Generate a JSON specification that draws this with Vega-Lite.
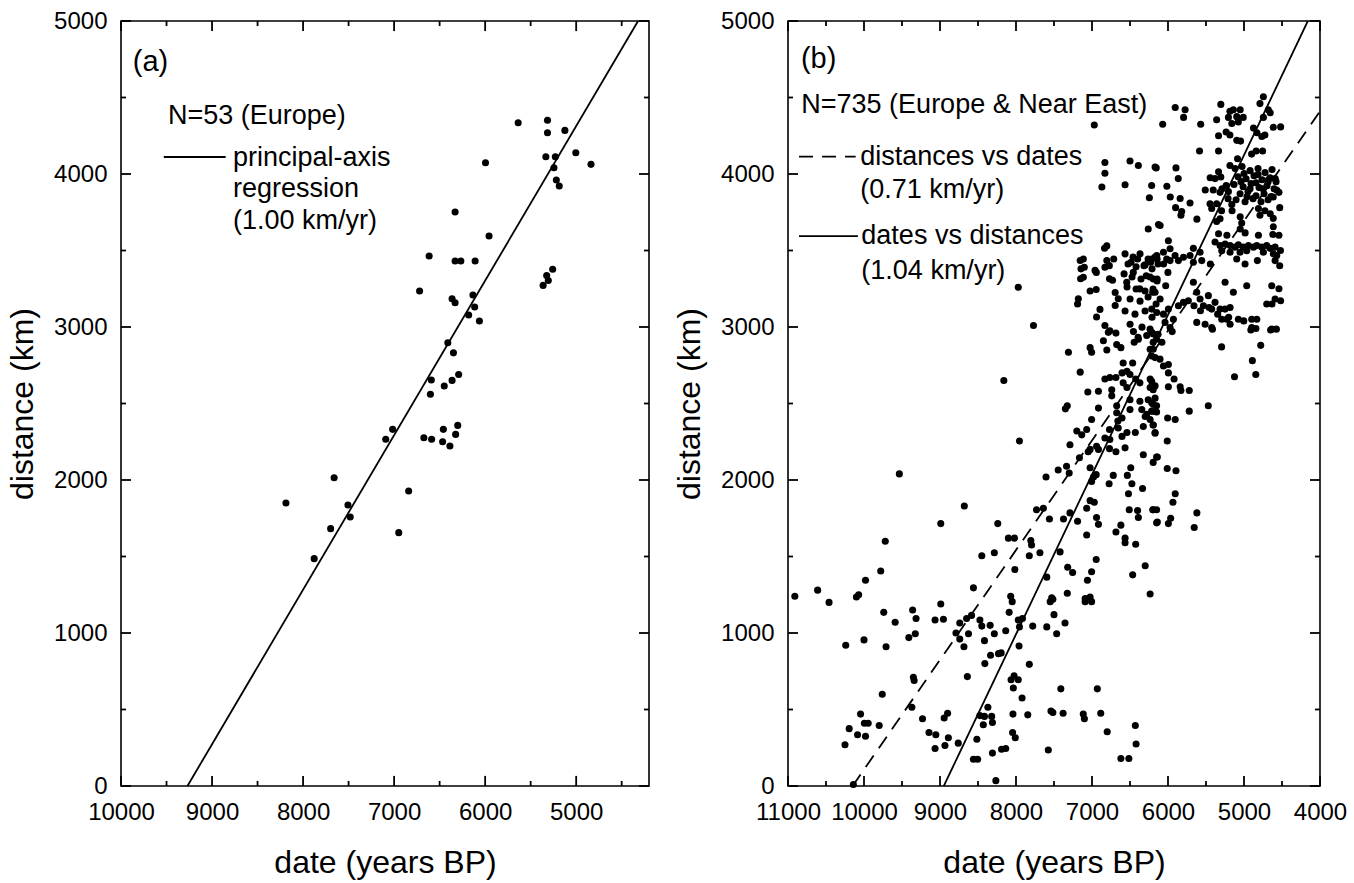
{
  "$schema": "https://vega.github.io/schema/vega-lite/v6.json",
  "padding": {"left": 5, "top": 8, "right": 6, "bottom": 4},
  "background": "white",
  "config": {
    "font": "Liberation Sans",
    "view": {"stroke": "black", "strokeWidth": 1.6},
    "concat": {"spacing": 21},
    "rule": {"color": "black", "strokeWidth": 1.8},
    "axis": {
      "grid": false,
      "domain": false,
      "ticks": false,
      "labelFont": "Liberation Sans",
      "labelFontSize": 24,
      "labelColor": "black",
      "labelFlush": false,
      "labelOverlap": false,
      "titleFont": "Liberation Sans",
      "titleFontSize": 32,
      "titleFontWeight": "normal",
      "titleColor": "black"
    }
  },
  "datasets": {
    "a_xt": [
      {"value":10000,"kind":"major"},{"value":9500,"kind":"minor"},{"value":9000,"kind":"major"},{"value":8500,"kind":"minor"},
      {"value":8000,"kind":"major"},{"value":7500,"kind":"minor"},{"value":7000,"kind":"major"},{"value":6500,"kind":"minor"},
      {"value":6000,"kind":"major"},{"value":5500,"kind":"minor"},{"value":5000,"kind":"major"},{"value":4500,"kind":"minor"}
    ],
    "b_xt": [
      {"value":11000,"kind":"major"},{"value":10500,"kind":"minor"},{"value":10000,"kind":"major"},{"value":9500,"kind":"minor"},
      {"value":9000,"kind":"major"},{"value":8500,"kind":"minor"},{"value":8000,"kind":"major"},{"value":7500,"kind":"minor"},
      {"value":7000,"kind":"major"},{"value":6500,"kind":"minor"},{"value":6000,"kind":"major"},{"value":5500,"kind":"minor"},
      {"value":5000,"kind":"major"},{"value":4500,"kind":"minor"},{"value":4000,"kind":"major"}
    ],
    "yt": [
      {"value":0,"kind":"major"},{"value":500,"kind":"minor"},{"value":1000,"kind":"major"},{"value":1500,"kind":"minor"},
      {"value":2000,"kind":"major"},{"value":2500,"kind":"minor"},{"value":3000,"kind":"major"},{"value":3500,"kind":"minor"},
      {"value":4000,"kind":"major"},{"value":4500,"kind":"minor"},{"value":5000,"kind":"major"}
    ],
    "a_pts": [
      {"date":5637,"distance":4335},{"date":5315,"distance":4351},{"date":5315,"distance":4270},{"date":5124,"distance":4285},
      {"date":5333,"distance":4113},{"date":5229,"distance":4113},{"date":5004,"distance":4139},{"date":4837,"distance":4063},
      {"date":5244,"distance":4041},{"date":5218,"distance":3961},{"date":5186,"distance":3922},{"date":5996,"distance":4074},
      {"date":6330,"distance":3752},{"date":5957,"distance":3595},{"date":6615,"distance":3464},{"date":6330,"distance":3431},
      {"date":6267,"distance":3431},{"date":6110,"distance":3431},{"date":5258,"distance":3377},{"date":5324,"distance":3337},
      {"date":5306,"distance":3304},{"date":5363,"distance":3272},{"date":6720,"distance":3235},{"date":6363,"distance":3185},
      {"date":6134,"distance":3209},{"date":6330,"distance":3159},{"date":6115,"distance":3131},{"date":6181,"distance":3078},
      {"date":6063,"distance":3039},{"date":6410,"distance":2897},{"date":6348,"distance":2831},{"date":6591,"distance":2654},
      {"date":6601,"distance":2560},{"date":6449,"distance":2614},{"date":6363,"distance":2651},{"date":6291,"distance":2690},
      {"date":7016,"distance":2331},{"date":7092,"distance":2266},{"date":6673,"distance":2276},{"date":6588,"distance":2266},
      {"date":6459,"distance":2331},{"date":6301,"distance":2357},{"date":6324,"distance":2298},{"date":6467,"distance":2250},
      {"date":6387,"distance":2222},{"date":7659,"distance":2015},{"date":6840,"distance":1928},{"date":8188,"distance":1850},
      {"date":7507,"distance":1837},{"date":7482,"distance":1758},{"date":7697,"distance":1682},{"date":6949,"distance":1656},
      {"date":7878,"distance":1486}
    ],
    "a_line": [
      {"date":9270,"distance":0},{"date":4320,"distance":5000}
    ],
    "a_leg": [
      {"x1":9530,"x2":8850,"y":4111}
    ],
    "a_text": [
      {"date":9870,"distance":4730,"label":"(a)","size":29},
      {"date":9484,"distance":4380,"label":"N=53 (Europe)","size":27},
      {"date":8770,"distance":4105,"label":"principal-axis","size":27},
      {"date":8770,"distance":3900,"label":"regression","size":27},
      {"date":8770,"distance":3690,"label":"(1.00 km/yr)","size":27}
    ],
    "b_line": [
      {"date":8950,"distance":0,"fit":"dates vs distances"},{"date":4160,"distance":5000,"fit":"dates vs distances"},
      {"date":10150,"distance":0,"fit":"distances vs dates"},{"date":4000,"distance":4410,"fit":"distances vs dates"}
    ],
    "b_leg": [
      {"x1":10855,"x2":10110,"y":4114,"fit":"distances vs dates"},
      {"x1":10855,"x2":10080,"y":3594,"fit":"dates vs distances"}
    ],
    "b_text": [
      {"date":10830,"distance":4750,"label":"(b)","size":29},
      {"date":10825,"distance":4450,"label":"N=735 (Europe & Near East)","size":27},
      {"date":10050,"distance":4114,"label":"distances vs dates","size":27},
      {"date":10050,"distance":3893,"label":"(0.71 km/yr)","size":27},
      {"date":10035,"distance":3594,"label":"dates vs distances","size":27},
      {"date":10035,"distance":3368,"label":"(1.04 km/yr)","size":27}
    ],
    "b_pts": [
      {"date":10910,"distance":1240},{"date":10610,"distance":1280},{"date":10460,"distance":1200},{"date":10100,"distance":1235},
      {"date":10070,"distance":1250},{"date":9980,"distance":1345},{"date":9780,"distance":1405},{"date":9720,"distance":1600},
      {"date":9535,"distance":2040},{"date":8990,"distance":1715},{"date":8680,"distance":1830},{"date":8240,"distance":1715},
      {"date":8450,"distance":1505},{"date":8285,"distance":1525},{"date":8560,"distance":1295},{"date":9740,"distance":1135},
      {"date":9590,"distance":1070},{"date":9360,"distance":1150},{"date":9315,"distance":1095},{"date":8990,"distance":1190},
      {"date":9065,"distance":1085},{"date":8955,"distance":1090},{"date":10240,"distance":920},{"date":10000,"distance":955},
      {"date":9710,"distance":910},{"date":9410,"distance":970},{"date":9325,"distance":995},{"date":8740,"distance":1065},
      {"date":8650,"distance":1095},{"date":8585,"distance":1115},{"date":8790,"distance":1000},{"date":8740,"distance":960},
      {"date":8685,"distance":910},{"date":8625,"distance":995},{"date":8475,"distance":1085},{"date":8450,"distance":1045},
      {"date":8340,"distance":1050},{"date":8285,"distance":995},{"date":8415,"distance":950},{"date":8335,"distance":855},
      {"date":8410,"distance":800},{"date":8640,"distance":715},{"date":9350,"distance":710},{"date":9340,"distance":690},
      {"date":9760,"distance":600},{"date":9370,"distance":515},{"date":10045,"distance":470},{"date":10195,"distance":375},
      {"date":10085,"distance":335},{"date":9980,"distance":325},{"date":9995,"distance":410},{"date":9945,"distance":410},
      {"date":10250,"distance":270},{"date":9800,"distance":395},{"date":9230,"distance":440},{"date":9145,"distance":350},
      {"date":9055,"distance":335},{"date":9065,"distance":245},{"date":8935,"distance":265},{"date":8945,"distance":445},
      {"date":8900,"distance":475},{"date":8890,"distance":315},{"date":8760,"distance":280},{"date":8515,"distance":305},
      {"date":8370,"distance":515},{"date":8475,"distance":460},{"date":8415,"distance":455},{"date":8320,"distance":455},
      {"date":8430,"distance":400},{"date":8310,"distance":415},{"date":8560,"distance":175},{"date":8505,"distance":175},
      {"date":8310,"distance":215},{"date":8265,"distance":35},{"date":8230,"distance":865},{"date":10140,"distance":10},
      {"date":8070,"distance":1240},{"date":8050,"distance":1205},{"date":8090,"distance":1135},{"date":8135,"distance":1015},
      {"date":7970,"distance":1085},{"date":7915,"distance":1095},{"date":7955,"distance":1040},{"date":7780,"distance":1045},
      {"date":7595,"distance":1040},{"date":7550,"distance":1205},{"date":7515,"distance":1220},{"date":7325,"distance":1260},
      {"date":7500,"distance":1120},{"date":7465,"distance":995},{"date":7355,"distance":1065},{"date":7090,"distance":1205},
      {"date":7005,"distance":1205},{"date":6235,"distance":1255},{"date":8195,"distance":870},{"date":7960,"distance":915},
      {"date":7825,"distance":795},{"date":8065,"distance":695},{"date":8025,"distance":720},{"date":7970,"distance":695},
      {"date":8035,"distance":640},{"date":7920,"distance":575},{"date":7410,"distance":635},{"date":6930,"distance":635},
      {"date":8040,"distance":470},{"date":7845,"distance":465},{"date":7540,"distance":490},{"date":7515,"distance":480},
      {"date":7380,"distance":475},{"date":7115,"distance":470},{"date":7100,"distance":440},{"date":6885,"distance":475},
      {"date":6800,"distance":355},{"date":6430,"distance":395},{"date":6420,"distance":275},{"date":6620,"distance":180},
      {"date":6515,"distance":180},{"date":8045,"distance":350},{"date":8010,"distance":315},{"date":8190,"distance":240},
      {"date":8135,"distance":245},{"date":7575,"distance":235},
      {"date":8160,"distance":2650},{"date":7955,"distance":2255},{"date":7310,"distance":2835},{"date":7155,"distance":2705},
      {"date":7025,"distance":2865},{"date":7005,"distance":2835},{"date":6850,"distance":2910},{"date":6805,"distance":2850},
      {"date":6675,"distance":2885},{"date":6620,"distance":2865},{"date":6445,"distance":2900},{"date":6390,"distance":2920},
      {"date":6765,"distance":2975},{"date":6685,"distance":2960},{"date":6455,"distance":2970},{"date":6280,"distance":2945},
      {"date":6195,"distance":2955},{"date":6235,"distance":2855},{"date":6170,"distance":2800},{"date":6195,"distance":2900},
      {"date":6590,"distance":2765},{"date":6465,"distance":2765},{"date":6830,"distance":2660},{"date":6765,"distance":2670},
      {"date":6685,"distance":2670},{"date":6605,"distance":2700},{"date":6540,"distance":2710},{"date":6500,"distance":2690},
      {"date":6590,"distance":2635},{"date":6540,"distance":2605},{"date":6425,"distance":2660},{"date":6370,"distance":2635},
      {"date":6235,"distance":2660},{"date":6235,"distance":2605},{"date":6170,"distance":2615},{"date":7055,"distance":2575},
      {"date":6915,"distance":2580},{"date":6740,"distance":2590},{"date":6740,"distance":2550},{"date":6500,"distance":2525},
      {"date":6370,"distance":2515},{"date":6260,"distance":2525},{"date":6195,"distance":2495},{"date":7350,"distance":2465},
      {"date":7325,"distance":2485},{"date":6915,"distance":2470},{"date":6675,"distance":2485},{"date":6675,"distance":2440},
      {"date":6500,"distance":2460},{"date":6345,"distance":2460},{"date":6280,"distance":2430},{"date":6195,"distance":2450},
      {"date":7005,"distance":2395},{"date":6660,"distance":2385},{"date":6605,"distance":2405},{"date":6300,"distance":2415},
      {"date":6235,"distance":2395},{"date":7200,"distance":2320},{"date":7135,"distance":2295},{"date":7070,"distance":2330},
      {"date":6770,"distance":2330},{"date":6655,"distance":2340},{"date":6605,"distance":2285},{"date":6540,"distance":2310},
      {"date":6430,"distance":2310},{"date":6325,"distance":2350},{"date":6195,"distance":2360},{"date":6170,"distance":2310},
      {"date":6830,"distance":2275},{"date":6765,"distance":2265},{"date":7290,"distance":2230},{"date":6940,"distance":2220},
      {"date":6915,"distance":2200},{"date":7025,"distance":2200},{"date":7050,"distance":2185},{"date":6770,"distance":2205},
      {"date":6685,"distance":2185},{"date":6565,"distance":2210},{"date":7165,"distance":2145},{"date":6325,"distance":2165},
      {"date":6150,"distance":2150},{"date":6195,"distance":2115},{"date":7445,"distance":2065},{"date":7335,"distance":2090},
      {"date":7300,"distance":2045},{"date":7605,"distance":2020},{"date":7025,"distance":2080},{"date":6980,"distance":2020},
      {"date":6945,"distance":2035},{"date":7005,"distance":1990},{"date":6720,"distance":2030},{"date":6535,"distance":2030},
      {"date":6490,"distance":2080},{"date":6475,"distance":1975},{"date":6775,"distance":1975},{"date":6335,"distance":1945},
      {"date":6520,"distance":1910},{"date":7730,"distance":1805},{"date":7640,"distance":1815},{"date":7560,"distance":1745},
      {"date":7375,"distance":1745},{"date":7290,"distance":1785},{"date":7190,"distance":1730},{"date":7070,"distance":1815},
      {"date":7025,"distance":1865},{"date":6970,"distance":1855},{"date":6940,"distance":1755},{"date":6915,"distance":1710},
      {"date":6510,"distance":1805},{"date":6400,"distance":1800},{"date":6390,"distance":1755},{"date":6200,"distance":1805},
      {"date":6150,"distance":1720},{"date":8100,"distance":1620},{"date":8020,"distance":1620},{"date":7805,"distance":1605},
      {"date":7795,"distance":1575},{"date":7825,"distance":1505},{"date":7685,"distance":1525},{"date":7420,"distance":1530},
      {"date":7070,"distance":1640},{"date":6685,"distance":1660},{"date":6620,"distance":1705},{"date":6565,"distance":1620},
      {"date":6565,"distance":1590},{"date":6425,"distance":1580},{"date":8015,"distance":1415},{"date":7320,"distance":1430},
      {"date":7255,"distance":1395},{"date":6945,"distance":1480},{"date":7005,"distance":1400},{"date":7060,"distance":1345},
      {"date":7595,"distance":1365},{"date":6300,"distance":1440},{"date":6465,"distance":1380},{"date":7530,"distance":1230},
      {"date":7090,"distance":1225},{"date":7025,"distance":1235},
      {"date":6215,"distance":2965},{"date":6150,"distance":2920},{"date":6080,"distance":2900},{"date":6195,"distance":2855},
      {"date":6215,"distance":2810},{"date":6105,"distance":2790},{"date":6060,"distance":2745},{"date":5995,"distance":2755},
      {"date":5945,"distance":2970},{"date":5415,"distance":2985},{"date":4910,"distance":2980},{"date":4650,"distance":2980},
      {"date":5295,"distance":2870},{"date":4780,"distance":2880},{"date":4890,"distance":2780},{"date":5125,"distance":2675},
      {"date":4845,"distance":2690},{"date":5995,"distance":2700},{"date":5920,"distance":2660},{"date":6215,"distance":2645},
      {"date":5995,"distance":2610},{"date":5840,"distance":2610},{"date":5830,"distance":2585},{"date":5720,"distance":2585},
      {"date":6195,"distance":2590},{"date":6170,"distance":2535},{"date":6215,"distance":2505},{"date":6150,"distance":2485},
      {"date":6215,"distance":2450},{"date":6150,"distance":2445},{"date":5720,"distance":2450},{"date":5470,"distance":2485},
      {"date":6005,"distance":2405},{"date":5905,"distance":2395},{"date":6195,"distance":2360},{"date":6170,"distance":2305},
      {"date":6010,"distance":2255},{"date":6140,"distance":2150},{"date":6010,"distance":2075},{"date":5895,"distance":2060},
      {"date":5905,"distance":1910},{"date":5935,"distance":1855},{"date":6195,"distance":1805},{"date":6150,"distance":1805},
      {"date":6140,"distance":1725},{"date":5995,"distance":1715},{"date":5965,"distance":1750},{"date":5620,"distance":1785},
      {"date":5655,"distance":1690},
      {"date":6970,"distance":4320},{"date":6830,"distance":4075},{"date":6830,"distance":4005},{"date":6870,"distance":3915},
      {"date":6500,"distance":4085},{"date":6390,"distance":4055},{"date":6565,"distance":3930},{"date":6170,"distance":4045},
      {"date":6215,"distance":3925},{"date":6245,"distance":3845},{"date":6125,"distance":3670},{"date":6260,"distance":3640},
      {"date":6805,"distance":3530},{"date":6835,"distance":3515},{"date":7155,"distance":3435},{"date":7145,"distance":3380},
      {"date":7150,"distance":3315},{"date":6805,"distance":3435},{"date":6830,"distance":3390},{"date":6960,"distance":3370},
      {"date":7970,"distance":3260},{"date":7770,"distance":3010},{"date":7180,"distance":3185},{"date":7190,"distance":3150},
      {"date":7025,"distance":3235},{"date":6945,"distance":3245},{"date":6895,"distance":3115},{"date":6940,"distance":3065},
      {"date":6770,"distance":3315},{"date":6730,"distance":3305},{"date":6695,"distance":3225},{"date":6655,"distance":3185},
      {"date":6695,"distance":3140},{"date":6830,"distance":3010},{"date":6785,"distance":2965},
      {"date":6565,"distance":3478},{"date":6460,"distance":3457},{"date":6368,"distance":3478},{"date":6262,"distance":3445},
      {"date":6170,"distance":3457},{"date":6526,"distance":3412},{"date":6420,"distance":3393},{"date":6302,"distance":3406},
      {"date":6210,"distance":3380},{"date":6131,"distance":3412},{"date":6578,"distance":3347},{"date":6473,"distance":3327},
      {"date":6355,"distance":3314},{"date":6236,"distance":3327},{"date":6144,"distance":3301},{"date":6539,"distance":3261},
      {"date":6420,"distance":3248},{"date":6302,"distance":3235},{"date":6197,"distance":3248},{"date":6499,"distance":3183},
      {"date":6368,"distance":3169},{"date":6262,"distance":3196},{"date":6157,"distance":3150},{"date":6565,"distance":3104},
      {"date":6434,"distance":3084},{"date":6302,"distance":3104},{"date":6210,"distance":3064},{"date":6499,"distance":3018},
      {"date":6342,"distance":2999},{"date":6236,"distance":2986},{"date":6131,"distance":2953},{"date":6394,"distance":2933},
      {"date":6486,"distance":3423},{"date":6400,"distance":3445},{"date":6316,"distance":3401},{"date":6229,"distance":3423},
      {"date":6143,"distance":3445},{"date":6058,"distance":3412},{"date":5973,"distance":3434},{"date":6457,"distance":3357},
      {"date":6286,"distance":3335},{"date":6143,"distance":3314},{"date":6001,"distance":3357},{"date":6543,"distance":3292},
      {"date":6372,"distance":3249},{"date":6201,"distance":3227},{"date":6030,"distance":3270},{"date":7114,"distance":3445},
      {"date":7101,"distance":3390},{"date":7114,"distance":3325},{"date":6943,"distance":3357},{"date":6772,"distance":3401},
      {"date":6714,"distance":3445},
      {"date":5905,"distance":4435},{"date":5775,"distance":4420},{"date":5795,"distance":4370},{"date":6070,"distance":4325},
      {"date":5570,"distance":4325},{"date":5305,"distance":4455},{"date":5185,"distance":4410},{"date":5140,"distance":4420},
      {"date":5050,"distance":4420},{"date":5205,"distance":4370},{"date":5095,"distance":4375},{"date":5010,"distance":4370},
      {"date":5160,"distance":4330},{"date":5075,"distance":4340},{"date":5360,"distance":4355},{"date":4745,"distance":4505},
      {"date":4790,"distance":4460},{"date":4680,"distance":4420},{"date":4655,"distance":4400},{"date":4745,"distance":4370},
      {"date":4615,"distance":4305},{"date":5335,"distance":4250},{"date":5235,"distance":4275},{"date":5185,"distance":4255},
      {"date":5095,"distance":4220},{"date":5045,"distance":4215},{"date":4875,"distance":4300},{"date":4830,"distance":4270},
      {"date":4765,"distance":4245},{"date":4725,"distance":4255},{"date":5585,"distance":4150},{"date":5335,"distance":4150},
      {"date":4900,"distance":4130},{"date":4840,"distance":4150},{"date":4755,"distance":4150},{"date":5085,"distance":4100},
      {"date":6155,"distance":4040},{"date":5895,"distance":4040},{"date":5865,"distance":3970},{"date":6015,"distance":3920},
      {"date":5445,"distance":3975},{"date":5335,"distance":4015},{"date":5305,"distance":3980},{"date":5185,"distance":4055},
      {"date":5510,"distance":3895},{"date":5405,"distance":3895},{"date":5315,"distance":3880},{"date":5235,"distance":3925},
      {"date":5205,"distance":3885},{"date":4680,"distance":3960},{"date":4590,"distance":3970},{"date":4570,"distance":3895},
      {"date":4615,"distance":3850},{"date":5840,"distance":3840},{"date":5710,"distance":3810},{"date":5820,"distance":3755},
      {"date":5360,"distance":3805},{"date":5425,"distance":3775},{"date":5295,"distance":3760},{"date":5160,"distance":3800},
      {"date":5620,"distance":3705},{"date":5360,"distance":3690},{"date":5050,"distance":3720},{"date":5030,"distance":3680},
      {"date":5050,"distance":3640},{"date":4985,"distance":3615},{"date":4655,"distance":3740},{"date":4615,"distance":3710},
      {"date":4615,"distance":3655},{"date":4620,"distance":3605},{"date":4810,"distance":3775},{"date":4725,"distance":3760},
      {"date":4790,"distance":3730},{"date":5335,"distance":3610},{"date":5225,"distance":3600},{"date":4810,"distance":3600},
      {"date":5117,"distance":4036},{"date":5025,"distance":4049},{"date":4920,"distance":4022},{"date":4815,"distance":4036},
      {"date":4723,"distance":4009},{"date":4631,"distance":4029},{"date":5078,"distance":3982},{"date":4973,"distance":3969},
      {"date":4868,"distance":3989},{"date":4763,"distance":3962},{"date":4657,"distance":3976},{"date":4578,"distance":3950},
      {"date":5131,"distance":3931},{"date":5012,"distance":3917},{"date":4907,"distance":3937},{"date":4802,"distance":3911},
      {"date":4697,"distance":3924},{"date":4604,"distance":3904},{"date":5052,"distance":3871},{"date":4947,"distance":3885},
      {"date":4842,"distance":3858},{"date":4736,"distance":3871},{"date":4644,"distance":3852},{"date":5104,"distance":3832},
      {"date":4986,"distance":3819},{"date":4881,"distance":3839},{"date":4776,"distance":3819},{"date":4683,"distance":3832},
      {"date":4999,"distance":4003},{"date":4842,"distance":3943},{"date":4750,"distance":3904},{"date":4920,"distance":3904},
      {"date":5039,"distance":3950},{"date":4683,"distance":3950},{"date":4815,"distance":3996},{"date":4960,"distance":3852},
      {"date":5381,"distance":3555},{"date":5315,"distance":3532},{"date":5249,"distance":3543},{"date":5183,"distance":3532},
      {"date":5118,"distance":3522},{"date":5074,"distance":3537},{"date":5008,"distance":3522},{"date":4942,"distance":3532},
      {"date":4876,"distance":3522},{"date":4832,"distance":3532},{"date":4766,"distance":3522},{"date":4701,"distance":3532},
      {"date":4657,"distance":3514},{"date":4591,"distance":3522},{"date":4614,"distance":3478},{"date":4569,"distance":3467},
      {"date":5096,"distance":3445},{"date":4986,"distance":3412},{"date":4824,"distance":3434},{"date":4591,"distance":3434},
      {"date":5293,"distance":3498},{"date":5183,"distance":3489},{"date":5052,"distance":3489},{"date":4964,"distance":3498},
      {"date":4745,"distance":3489},
      {"date":6214,"distance":3445},{"date":6148,"distance":3467},{"date":6060,"distance":3489},{"date":6017,"distance":3445},
      {"date":5973,"distance":3511},{"date":5907,"distance":3467},{"date":5863,"distance":3434},{"date":5797,"distance":3456},
      {"date":5710,"distance":3467},{"date":5666,"distance":3423},{"date":5556,"distance":3434},{"date":5666,"distance":3514},
      {"date":5995,"distance":3564},{"date":6104,"distance":3663},
      {"date":6193,"distance":3314},{"date":6170,"distance":3227},{"date":6104,"distance":3183},{"date":6214,"distance":3117},
      {"date":6148,"distance":3095},{"date":6060,"distance":3084},{"date":5995,"distance":3117},{"date":6039,"distance":3030},
      {"date":5973,"distance":2997},{"date":5929,"distance":3051},{"date":5863,"distance":3139},{"date":5797,"distance":3161},
      {"date":5732,"distance":3172},{"date":5666,"distance":3292},{"date":5622,"distance":3227},{"date":5578,"distance":3183},
      {"date":5534,"distance":3139},{"date":5469,"distance":3205},{"date":5425,"distance":3117},{"date":5381,"distance":3161},
      {"date":5315,"distance":3117},{"date":5249,"distance":3117},{"date":5183,"distance":3128},{"date":5293,"distance":3051},
      {"date":5227,"distance":3051},{"date":5183,"distance":3018},{"date":5622,"distance":3030},{"date":5512,"distance":3018},
      {"date":5425,"distance":2997},{"date":5074,"distance":3051},{"date":4964,"distance":3270},{"date":4898,"distance":3051},
      {"date":5140,"distance":3227},{"date":5249,"distance":3292},{"date":4701,"distance":3150},{"date":4591,"distance":3183},
      {"date":4635,"distance":3270},{"date":4635,"distance":2986},{"date":4898,"distance":2997},{"date":5443,"distance":3412},
      {"date":5578,"distance":3489},
      {"date":5658,"distance":3139},{"date":5573,"distance":3106},{"date":5459,"distance":3128},{"date":5346,"distance":3084},
      {"date":5202,"distance":3063},{"date":5003,"distance":3040},{"date":4831,"distance":3051},{"date":4843,"distance":2990},
      {"date":4632,"distance":3150},{"date":4518,"distance":3172},{"date":4574,"distance":2986},
      {"date":4518,"distance":4308},{"date":4540,"distance":3880},{"date":4530,"distance":3780},{"date":4540,"distance":3600},
      {"date":4520,"distance":3500},{"date":4530,"distance":3400},{"date":4540,"distance":3250},
      {"date":5381,"distance":3970},{"date":5289,"distance":3904},{"date":5210,"distance":3839},{"date":5447,"distance":3806},
      {"date":5157,"distance":3760},{"date":5315,"distance":3707},{"date":5970,"distance":3850},{"date":5830,"distance":3730},
      {"date":5900,"distance":3780}
    ]
  },
  "hconcat": [
    {
      "width": 528,
      "height": 765,
      "layer": [
        {
          "data": {"name": "a_pts"},
          "mark": {"type": "circle", "size": 50, "color": "black", "opacity": 1},
          "encoding": {
            "x": {"field": "date", "type": "quantitative",
              "scale": {"domain": [4200, 10000], "reverse": true, "nice": false, "zero": false},
              "axis": {"orient": "bottom", "values": [10000,9000,8000,7000,6000,5000], "format": "d",
                "labelPadding": 14, "title": "date (years BP)", "titlePadding": 23}},
            "y": {"field": "distance", "type": "quantitative",
              "scale": {"domain": [0, 5000], "nice": false, "zero": false},
              "axis": {"orient": "left", "values": [0,1000,2000,3000,4000,5000], "format": "d",
                "labelPadding": 14, "title": "distance (km)", "titlePadding": 14}}
          }
        },
        {
          "data": {"name": "a_line"},
          "mark": {"type": "line", "color": "black", "strokeWidth": 1.8},
          "encoding": {
            "x": {"field": "date", "type": "quantitative", "axis": null},
            "y": {"field": "distance", "type": "quantitative", "axis": null}
          }
        },
        {
          "data": {"name": "a_leg"},
          "mark": {"type": "rule"},
          "encoding": {
            "x": {"field": "x1", "type": "quantitative", "axis": null},
            "x2": {"field": "x2"},
            "y": {"field": "y", "type": "quantitative", "axis": null}
          }
        },
        {
          "data": {"name": "a_text"},
          "mark": {"type": "text", "align": "left", "baseline": "middle", "font": "Liberation Sans", "color": "black"},
          "encoding": {
            "x": {"field": "date", "type": "quantitative", "axis": null},
            "y": {"field": "distance", "type": "quantitative", "axis": null},
            "text": {"field": "label"},
            "size": {"field": "size", "type": "quantitative", "scale": null, "legend": null}
          }
        },
        {
          "data": {"name": "a_xt"}, "transform": [{"filter": "datum.kind == 'major'"}],
          "mark": {"type": "rule"},
          "encoding": {"x": {"field": "value", "type": "quantitative", "axis": null}, "y": {"datum": 0, "type": "quantitative", "axis": null}, "y2": {"datum": 66}}
        },
        {
          "data": {"name": "a_xt"}, "transform": [{"filter": "datum.kind == 'minor'"}],
          "mark": {"type": "rule"},
          "encoding": {"x": {"field": "value", "type": "quantitative", "axis": null}, "y": {"datum": 0, "type": "quantitative", "axis": null}, "y2": {"datum": 33}}
        },
        {
          "data": {"name": "a_xt"}, "transform": [{"filter": "datum.kind == 'major'"}],
          "mark": {"type": "rule"},
          "encoding": {"x": {"field": "value", "type": "quantitative", "axis": null}, "y": {"datum": 5000, "type": "quantitative", "axis": null}, "y2": {"datum": 4934}}
        },
        {
          "data": {"name": "a_xt"}, "transform": [{"filter": "datum.kind == 'minor'"}],
          "mark": {"type": "rule"},
          "encoding": {"x": {"field": "value", "type": "quantitative", "axis": null}, "y": {"datum": 5000, "type": "quantitative", "axis": null}, "y2": {"datum": 4967}}
        },
        {
          "data": {"name": "yt"}, "transform": [{"filter": "datum.kind == 'major'"}],
          "mark": {"type": "rule"},
          "encoding": {"y": {"field": "value", "type": "quantitative", "axis": null}, "x": {"datum": 10000, "type": "quantitative", "axis": null}, "x2": {"datum": 9890}}
        },
        {
          "data": {"name": "yt"}, "transform": [{"filter": "datum.kind == 'minor'"}],
          "mark": {"type": "rule"},
          "encoding": {"y": {"field": "value", "type": "quantitative", "axis": null}, "x": {"datum": 10000, "type": "quantitative", "axis": null}, "x2": {"datum": 9945}}
        },
        {
          "data": {"name": "yt"}, "transform": [{"filter": "datum.kind == 'major'"}],
          "mark": {"type": "rule"},
          "encoding": {"y": {"field": "value", "type": "quantitative", "axis": null}, "x": {"datum": 4200, "type": "quantitative", "axis": null}, "x2": {"datum": 4310}}
        },
        {
          "data": {"name": "yt"}, "transform": [{"filter": "datum.kind == 'minor'"}],
          "mark": {"type": "rule"},
          "encoding": {"y": {"field": "value", "type": "quantitative", "axis": null}, "x": {"datum": 4200, "type": "quantitative", "axis": null}, "x2": {"datum": 4255}}
        }
      ],
      "resolve": {"axis": {"x": "independent", "y": "independent"}}
    },
    {
      "width": 532,
      "height": 765,
      "layer": [
        {
          "data": {"name": "b_pts"},
          "mark": {"type": "circle", "size": 50, "color": "black", "opacity": 1},
          "encoding": {
            "x": {"field": "date", "type": "quantitative",
              "scale": {"domain": [4000, 11000], "reverse": true, "nice": false, "zero": false},
              "axis": {"orient": "bottom", "values": [11000,10000,9000,8000,7000,6000,5000,4000], "format": "d",
                "labelPadding": 14, "title": "date (years BP)", "titlePadding": 23}},
            "y": {"field": "distance", "type": "quantitative",
              "scale": {"domain": [0, 5000], "nice": false, "zero": false},
              "axis": {"orient": "left", "values": [0,1000,2000,3000,4000,5000], "format": "d",
                "labelPadding": 14, "title": "distance (km)", "titlePadding": 14}}
          }
        },
        {
          "data": {"name": "b_line"},
          "mark": {"type": "line", "color": "black", "strokeWidth": 1.8},
          "encoding": {
            "x": {"field": "date", "type": "quantitative", "axis": null},
            "y": {"field": "distance", "type": "quantitative", "axis": null},
            "strokeDash": {"field": "fit", "type": "nominal",
              "scale": {"domain": ["dates vs distances", "distances vs dates"], "range": [[1, 0], [14, 9]]},
              "legend": null}
          }
        },
        {
          "data": {"name": "b_leg"},
          "mark": {"type": "rule"},
          "encoding": {
            "x": {"field": "x1", "type": "quantitative", "axis": null},
            "x2": {"field": "x2"},
            "y": {"field": "y", "type": "quantitative", "axis": null},
            "strokeDash": {"field": "fit", "type": "nominal", "legend": null}
          }
        },
        {
          "data": {"name": "b_text"},
          "mark": {"type": "text", "align": "left", "baseline": "middle", "font": "Liberation Sans", "color": "black"},
          "encoding": {
            "x": {"field": "date", "type": "quantitative", "axis": null},
            "y": {"field": "distance", "type": "quantitative", "axis": null},
            "text": {"field": "label"},
            "size": {"field": "size", "type": "quantitative", "scale": null, "legend": null}
          }
        },
        {
          "data": {"name": "b_xt"}, "transform": [{"filter": "datum.kind == 'major'"}],
          "mark": {"type": "rule"},
          "encoding": {"x": {"field": "value", "type": "quantitative", "axis": null}, "y": {"datum": 0, "type": "quantitative", "axis": null}, "y2": {"datum": 66}}
        },
        {
          "data": {"name": "b_xt"}, "transform": [{"filter": "datum.kind == 'minor'"}],
          "mark": {"type": "rule"},
          "encoding": {"x": {"field": "value", "type": "quantitative", "axis": null}, "y": {"datum": 0, "type": "quantitative", "axis": null}, "y2": {"datum": 33}}
        },
        {
          "data": {"name": "b_xt"}, "transform": [{"filter": "datum.kind == 'major'"}],
          "mark": {"type": "rule"},
          "encoding": {"x": {"field": "value", "type": "quantitative", "axis": null}, "y": {"datum": 5000, "type": "quantitative", "axis": null}, "y2": {"datum": 4934}}
        },
        {
          "data": {"name": "b_xt"}, "transform": [{"filter": "datum.kind == 'minor'"}],
          "mark": {"type": "rule"},
          "encoding": {"x": {"field": "value", "type": "quantitative", "axis": null}, "y": {"datum": 5000, "type": "quantitative", "axis": null}, "y2": {"datum": 4967}}
        },
        {
          "data": {"name": "yt"}, "transform": [{"filter": "datum.kind == 'major'"}],
          "mark": {"type": "rule"},
          "encoding": {"y": {"field": "value", "type": "quantitative", "axis": null}, "x": {"datum": 11000, "type": "quantitative", "axis": null}, "x2": {"datum": 10868}}
        },
        {
          "data": {"name": "yt"}, "transform": [{"filter": "datum.kind == 'minor'"}],
          "mark": {"type": "rule"},
          "encoding": {"y": {"field": "value", "type": "quantitative", "axis": null}, "x": {"datum": 11000, "type": "quantitative", "axis": null}, "x2": {"datum": 10934}}
        },
        {
          "data": {"name": "yt"}, "transform": [{"filter": "datum.kind == 'major'"}],
          "mark": {"type": "rule"},
          "encoding": {"y": {"field": "value", "type": "quantitative", "axis": null}, "x": {"datum": 4000, "type": "quantitative", "axis": null}, "x2": {"datum": 4132}}
        },
        {
          "data": {"name": "yt"}, "transform": [{"filter": "datum.kind == 'minor'"}],
          "mark": {"type": "rule"},
          "encoding": {"y": {"field": "value", "type": "quantitative", "axis": null}, "x": {"datum": 4000, "type": "quantitative", "axis": null}, "x2": {"datum": 4066}}
        }
      ],
      "resolve": {"axis": {"x": "independent", "y": "independent"}}
    }
  ]
}
